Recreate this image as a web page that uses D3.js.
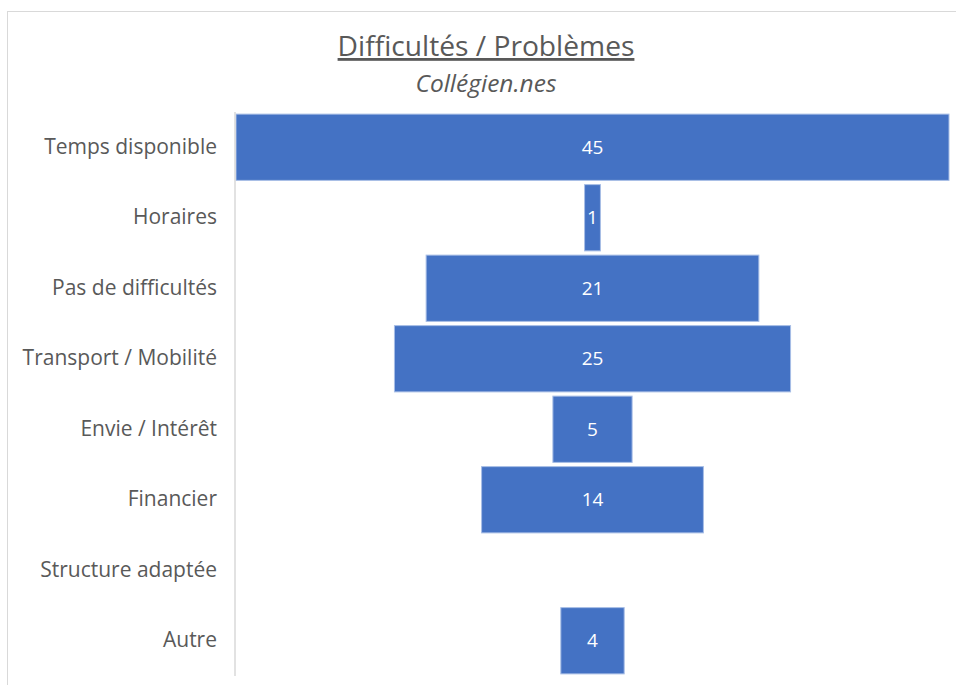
<!DOCTYPE html>
<html>
<head>
<meta charset="utf-8">
<script src="https://cdn.jsdelivr.net/npm/d3@7"></script>
<style>
  body { margin: 0; background: #fff; }
  text { font-family: "Open Sans", "Noto Sans", sans-serif; }
</style>
</head>
<body>
<div id="chart"></div>
<script>
// data
let categories = [
  "Temps disponible",
  "Horaires",
  "Pas de difficultés",
  "Transport / Mobilité",
  "Envie / Intérêt",
  "Financier",
  "Structure adaptée",
  "Autre"
];
let values = [45, 1, 21, 25, 5, 14, 0, 4];
let titleText = "Difficultés / Problèmes";
let subtitleText = "Collégien.nes";

let W = 956, H = 685;
let plot = { left: 236, right: 949, top: 112, bottom: 676 };
let centerX = (plot.left + plot.right) / 2;

let svg = d3
  .select("#chart")
  .append("svg")
  .attr("width", W)
  .attr("height", H);

// chart frame (runs off the right / bottom of the window)
svg
  .append("rect")
  .attr("x", 7.5)
  .attr("y", 11.5)
  .attr("width", W + 20)
  .attr("height", H + 20)
  .attr("fill", "none")
  .attr("stroke", "#d9d9d9")
  .attr("stroke-width", 1);

// title + subtitle
svg
  .append("text")
  .attr("x", 486)
  .attr("y", 56)
  .attr("text-anchor", "middle")
  .attr("font-size", 28.2)
  .attr("fill", "#595959")
  .attr("text-decoration", "underline")
  .text(titleText);

svg
  .append("text")
  .attr("x", 486)
  .attr("y", 92)
  .attr("text-anchor", "middle")
  .attr("font-size", 24.5)
  .attr("font-style", "italic")
  .attr("fill", "#595959")
  .text(subtitleText);

let x = d3
  .scaleLinear()
  .domain([0, d3.max(values)])
  .range([0, plot.right - plot.left]);

let y = d3
  .scaleBand()
  .domain(categories)
  .range([plot.top, plot.bottom])
  .paddingInner(0.06)
  .paddingOuter(0.03);

let rows = categories.map((c, i) => ({ cat: c, val: values[i] }));

// bars, centred like a funnel
svg
  .append("g")
  .selectAll("rect")
  .data(rows.filter((d) => d.val > 0))
  .enter()
  .append("rect")
  .attr("x", (d) => centerX - x(d.val) / 2)
  .attr("y", (d) => y(d.cat))
  .attr("width", (d) => x(d.val))
  .attr("height", y.bandwidth())
  .attr("fill", "#4472c4")
  .attr("stroke", "#a8bee6")
  .attr("stroke-width", 1);

// value labels
svg
  .append("g")
  .selectAll("text")
  .data(rows.filter((d) => d.val > 0))
  .enter()
  .append("text")
  .attr("x", centerX)
  .attr("y", (d) => y(d.cat) + y.bandwidth() / 2)
  .attr("dy", "0.35em")
  .attr("text-anchor", "middle")
  .attr("font-size", 19)
  .attr("fill", "#fff")
  .text((d) => d.val);

// category axis on the left
let yAxis = svg
  .append("g")
  .attr("transform", `translate(${plot.left - 1},0)`)
  .call(d3.axisLeft(y).tickSize(0).tickPadding(18));
yAxis.select(".domain").attr("stroke", "#d9d9d9").attr("stroke-width", 1.5)
  .attr("d", `M0,${plot.top}V${plot.bottom}`);
yAxis
  .selectAll("text")
  .attr("font-size", 21)
  .attr("fill", "#595959")
  .style("font-family", "'Open Sans', sans-serif");
</script>
</body>
</html>
